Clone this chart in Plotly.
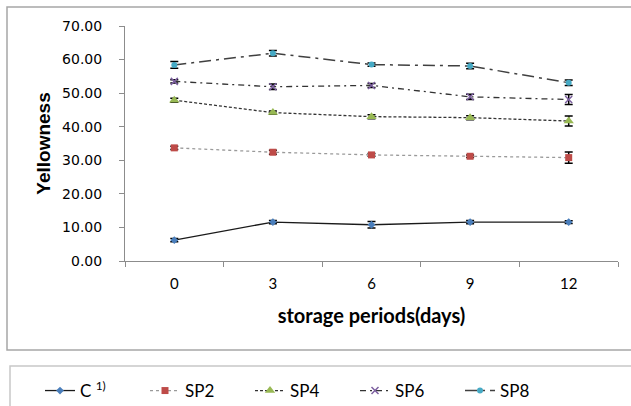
import plotly.graph_objects as go

days = ["0", "3", "6", "9", "12"]

c_vals = [6.2, 11.6, 10.8, 11.6, 11.6]
c_err = [0.5, 0.5, 1.0, 0.5, 0.4]
sp2_vals = [33.7, 32.4, 31.6, 31.2, 30.8]
sp2_err = [0.5, 0.6, 0.4, 0.4, 1.7]
sp4_vals = [47.9, 44.2, 43.0, 42.7, 41.7]
sp4_err = [0.6, 0.5, 0.6, 0.6, 1.5]
sp6_vals = [53.5, 51.9, 52.3, 48.9, 48.1]
sp6_err = [0.5, 0.8, 0.6, 0.8, 1.5]
sp8_vals = [58.4, 61.9, 58.5, 58.1, 53.1]
sp8_err = [1.0, 0.8, 0.5, 0.8, 0.8]

series = [
    ("C <sup>1)</sup>", c_vals, c_err, dict(color="#1a1a1a", width=1.3, dash="solid"),
     dict(symbol="diamond", size=6, color="#4a7ebb")),
    ("SP2", sp2_vals, sp2_err, dict(color="#9a9a9a", width=1.3, dash="dot"),
     dict(symbol="square", size=7, color="#be4b48")),
    ("SP4", sp4_vals, sp4_err, dict(color="#333333", width=1.3, dash="3px,2px"),
     dict(symbol="triangle-up", size=9, color="#98b954")),
    ("SP6", sp6_vals, sp6_err, dict(color="#333333", width=1.3, dash="6px,4px,2px,4px"),
     dict(symbol="x-thin", size=7, color="#7d60a0", line=dict(width=1.5, color="#7d60a0"))),
    ("SP8", sp8_vals, sp8_err, dict(color="#404040", width=1.5, dash="12px,5px,3px,5px"),
     dict(symbol="circle", size=6, color="#46aac5")),
]

fig = go.Figure()
for name, vals, err, line, marker in series:
    fig.add_trace(go.Scatter(
        x=days, y=vals, name=name, mode="lines+markers",
        line=line, marker=marker,
        error_y=dict(type="data", array=err, visible=True, color="#000000",
                     thickness=1.5, width=4),
    ))

L, R, T, B = 125, 618, 26, 261
W, H = 631, 406
pw, ph = R - L, B - T

def px(x):
    return (x - L) / pw

def py(y):
    return (B - y) / ph

fig.update_layout(
    width=W, height=H,
    margin=dict(l=L, r=W - R, t=T, b=H - B, pad=0, autoexpand=False),
    paper_bgcolor="white", plot_bgcolor="white",
    showlegend=True,
    legend=dict(orientation="h", x=px(40), y=py(373), xanchor="left", yanchor="top",
                font=dict(family="Lato, Liberation Sans, sans-serif", size=17, color="#000"),
                bgcolor="rgba(0,0,0,0)", itemwidth=30, tracegroupgap=0,
                entrywidth=60, entrywidthmode="pixels"),
    xaxis=dict(
        type="category", range=[-0.5, 4.5], showline=True, linecolor="#8c8c8c", linewidth=1,
        ticks="outside", tickson="boundaries", ticklen=5, tickcolor="#8c8c8c",
        showgrid=False, zeroline=False, automargin=False,
        tickfont=dict(family="Lato, Liberation Sans, sans-serif", size=15, color="#000"),
        ticklabelstandoff=9,
        title=dict(text="<b>storage periods(days)</b>", standoff=17,
                   font=dict(family="Lato, Liberation Sans, sans-serif", size=20, color="#000")),
    ),
    yaxis=dict(
        range=[0, 70], tickvals=[0, 10, 20, 30, 40, 50, 60, 70],
        ticktext=["0.00", "10.00", "20.00", "30.00", "40.00", "50.00", "60.00", "70.00"],
        showline=True, linecolor="#8c8c8c", linewidth=1,
        ticks="outside", ticklen=5, tickcolor="#8c8c8c",
        showgrid=False, zeroline=False, automargin=False,
        tickfont=dict(family="DejaVu Sans, sans-serif", size=14, color="#000"),
        ticklabelstandoff=14,
        title=dict(text="<b>Yellowness</b>", standoff=6,
                   font=dict(family="Liberation Sans, Arial, sans-serif", size=19, color="#000")),
    ),
    shapes=[
        dict(type="rect", xref="paper", yref="paper",
             x0=px(7), x1=px(640), y0=py(350), y1=py(7),
             line=dict(color="#a6a6a6", width=1.5), fillcolor="rgba(0,0,0,0)", layer="below"),
        dict(type="rect", xref="paper", yref="paper",
             x0=px(10), x1=px(640), y0=py(420), y1=py(366),
             line=dict(color="#c8c8c8", width=1.5), fillcolor="rgba(0,0,0,0)", layer="below"),
    ],
)

fig.write_html("out.html")
